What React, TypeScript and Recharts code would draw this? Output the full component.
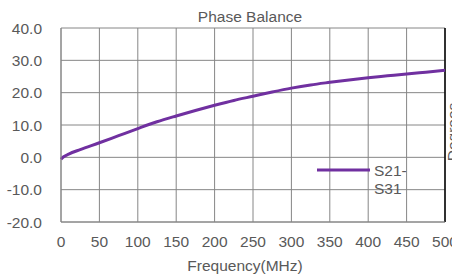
import React from 'react';
import { LineChart, Line, XAxis, YAxis, CartesianGrid, ReferenceLine, Legend, Customized } from 'recharts';

const frequencies = [0, 3, 10, 25, 50, 75, 100, 125, 150, 175, 200, 225, 250, 275, 300, 325, 350, 375, 400, 425, 450, 475, 500];
const s21s31 = [-0.6, 0.1, 1.0, 2.4, 4.5, 6.7, 8.9, 11.0, 12.8, 14.5, 16.1, 17.6, 18.9, 20.2, 21.4, 22.4, 23.2, 23.95, 24.6, 25.2, 25.8, 26.35, 26.9];
const xTicks = [0, 50, 100, 150, 200, 250, 300, 350, 400, 450, 500];
const yTicks = [-20, -10, 0, 10, 20, 30, 40];
const seriesName = 'S21-S31';
const titleText = 'Phase Balance';
const xLabelText = 'Frequency(MHz)';
const yLabelText = 'Degrees';

const data = frequencies.map((f, i) => ({ f, v: s21s31[i] }));

const FONT = '"Liberation Sans", Arial, sans-serif';
const FS = 15.5;
const TXT = '#595959';
const PURPLE = '#7030A0';

const LegendContent = () => (
  <svg width={120} height={45} style={{ display: 'block', overflow: 'visible' }}>
    <line x1={1} y1={10} x2={54} y2={10} stroke={PURPLE} strokeWidth={3} />
    <text x={58} y={16} fontSize={FS} fill={TXT} fontFamily={FONT}>S21-</text>
    <text x={58} y={34} fontSize={FS} fill={TXT} fontFamily={FONT}>S31</text>
  </svg>
);

const Texts = () => (
  <g fontFamily={FONT} fill={TXT} fontSize={FS}>
    <text x={250} y={22} textAnchor="middle">{titleText}</text>
    <text x={245} y={271} textAnchor="middle">{xLabelText}</text>
    <text x={458} y={132} textAnchor="middle" transform="rotate(-90, 458, 132)">{yLabelText}</text>
  </g>
);

export default function App() {
  return (
    <div style={{ position: 'absolute', left: 0, top: 0, width: 452, height: 275, background: '#fff' }}>
      <LineChart width={452} height={275} data={data} margin={{ top: 28, right: 7, bottom: 0, left: 0 }}>
        <CartesianGrid stroke="#868686" strokeWidth={1} />
        <XAxis
          dataKey="f"
          type="number"
          domain={[0, 500]}
          ticks={xTicks}
          height={53}
          tickLine={false}
          tickSize={0}
          tickMargin={14}
          axisLine={{ stroke: '#868686' }}
          tick={{ fill: TXT, fontSize: FS, fontFamily: FONT }}
          interval={0}
        />
        <YAxis
          type="number"
          domain={[-20, 40]}
          ticks={yTicks}
          width={61}
          tickLine={false}
          tickSize={0}
          tickMargin={19}
          axisLine={{ stroke: '#868686' }}
          tick={{ fill: TXT, fontSize: FS, fontFamily: FONT }}
          tickFormatter={(v: number) => v.toFixed(1)}
          interval={0}
        />
        <ReferenceLine x={500} stroke="#000" strokeWidth={1.5} />
        <Line
          type="monotone"
          dataKey="v"
          name={seriesName}
          stroke={PURPLE}
          strokeWidth={3}
          dot={false}
          isAnimationActive={false}
        />
        <Legend
          layout="horizontal"
          verticalAlign="middle"
          align="center"
          content={<LegendContent />}
          wrapperStyle={{ position: 'absolute', left: 316, top: 160, width: 120, height: 45 }}
        />
        <Customized component={Texts} />
      </LineChart>
    </div>
  );
}
